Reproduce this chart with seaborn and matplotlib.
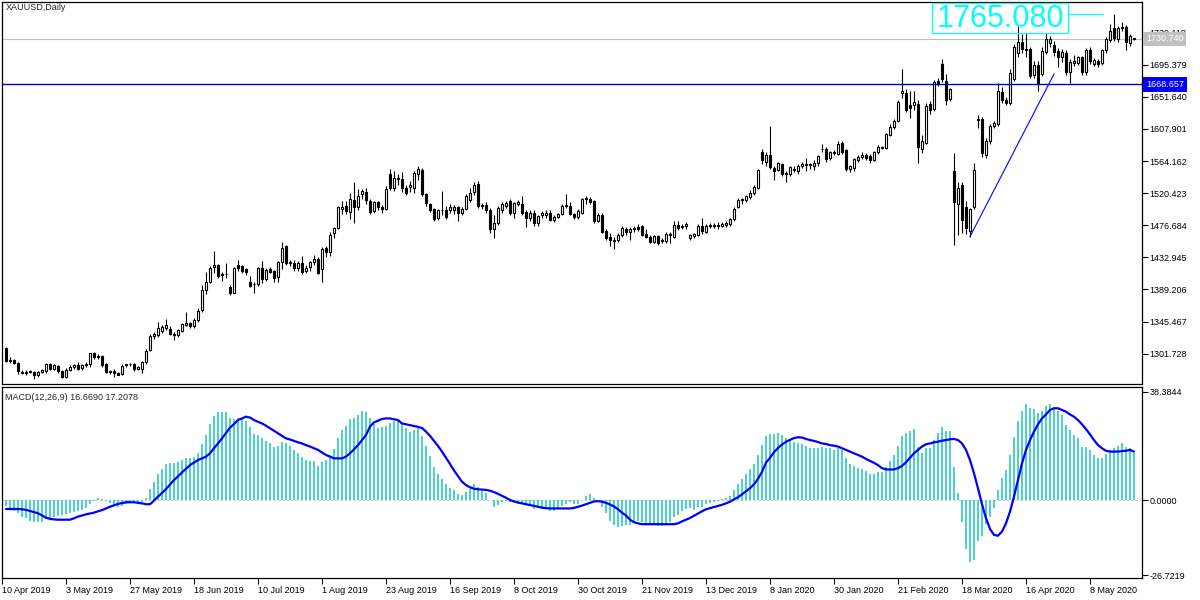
import matplotlib
matplotlib.use("Agg")
import matplotlib.pyplot as plt
import matplotlib.transforms as mtransforms
from matplotlib.patches import Rectangle
import seaborn as sns
import numpy as np
import pandas as pd

# ---- values (one entry per daily bar) ----
symbol_title = "XAUUSD,Daily"

opens = [
    1309, 1292, 1293, 1289, 1277, 1276, 1277, 1277, 1272, 1277,
    1278, 1287, 1281, 1285, 1278, 1270, 1279, 1283, 1286, 1282,
    1286, 1287, 1302, 1297, 1299, 1288, 1277, 1278, 1276, 1274,
    1286, 1287, 1287, 1281, 1281, 1290, 1307, 1326, 1327, 1333,
    1337, 1335, 1329, 1327, 1333, 1341, 1343, 1340, 1347, 1361,
    1389, 1400, 1420, 1422, 1409, 1410, 1393, 1385, 1423, 1421,
    1417, 1400, 1396, 1397, 1419, 1404, 1417, 1414, 1406, 1426,
    1448, 1425, 1425, 1418, 1425, 1415, 1420, 1426, 1431, 1417,
    1446, 1440, 1466, 1473, 1499, 1503, 1495, 1511, 1501, 1519,
    1522, 1510, 1496, 1508, 1502, 1499, 1547, 1527, 1540, 1540,
    1528, 1529, 1527, 1547, 1552, 1519, 1505, 1499, 1486, 1497,
    1498, 1497, 1498, 1501, 1493, 1499, 1511, 1522, 1533, 1503,
    1504, 1497, 1472, 1480, 1498, 1503, 1510, 1493, 1506, 1506,
    1495, 1487, 1494, 1480, 1491, 1490, 1493, 1484, 1488, 1492,
    1503, 1503, 1492, 1488, 1494, 1513, 1513, 1510, 1483, 1491,
    1469, 1461, 1456, 1456, 1463, 1472, 1467, 1472, 1475, 1476,
    1465, 1461, 1454, 1462, 1455, 1455, 1465, 1461, 1477, 1476,
    1476, 1459, 1462, 1464, 1476, 1468, 1476, 1477, 1476, 1476,
    1477, 1478, 1485, 1502, 1511, 1511, 1515, 1520, 1528, 1576,
    1563, 1573, 1555, 1552, 1560, 1548, 1546, 1552, 1551, 1558,
    1559, 1560, 1558, 1561, 1580, 1581, 1568, 1576, 1574, 1589,
    1579, 1553, 1555, 1566, 1570, 1573, 1571, 1566, 1576, 1583,
    1582, 1600, 1610, 1619, 1657, 1657, 1641, 1640, 1642, 1581,
    1589, 1642, 1635, 1673, 1696, 1673, 1649, 1551, 1505, 1532,
    1502, 1469, 1502, 1620, 1621, 1572, 1591, 1612, 1615, 1658,
    1648, 1643, 1676, 1711, 1727, 1717, 1717, 1681, 1695, 1683,
    1713, 1725, 1722, 1714, 1706, 1712, 1685, 1698, 1698, 1706,
    1685, 1715, 1697, 1701, 1698, 1715, 1729, 1745, 1730, 1745,
    1747, 1725, 1731,
]

highs = [
    1311, 1297, 1294, 1290, 1280, 1279, 1279, 1278, 1278, 1281,
    1289, 1289, 1288, 1286, 1280, 1282, 1286, 1288, 1290, 1288,
    1291, 1303, 1304, 1301, 1300, 1289, 1280, 1281, 1277, 1287,
    1288, 1289, 1289, 1285, 1292, 1308, 1329, 1331, 1345, 1341,
    1349, 1340, 1331, 1336, 1344, 1358, 1345, 1350, 1364, 1395,
    1413, 1421, 1441, 1424, 1413, 1425, 1395, 1420, 1429, 1423,
    1419, 1408, 1400, 1420, 1428, 1418, 1420, 1416, 1428, 1454,
    1450, 1430, 1430, 1428, 1435, 1422, 1428, 1436, 1434, 1447,
    1449, 1467, 1475, 1503, 1510, 1510, 1521, 1535, 1526, 1526,
    1527, 1513, 1510, 1510, 1504, 1530, 1554, 1550, 1547, 1549,
    1532, 1537, 1550, 1557, 1555, 1521, 1507, 1500, 1499, 1524,
    1503, 1506, 1504, 1503, 1501, 1519, 1527, 1536, 1537, 1507,
    1508, 1500, 1491, 1503, 1509, 1510, 1513, 1509, 1511, 1516,
    1497, 1497, 1497, 1491, 1496, 1497, 1497, 1490, 1494, 1505,
    1519, 1509, 1494, 1499, 1514, 1516, 1515, 1511, 1494, 1493,
    1471, 1466, 1461, 1466, 1476, 1475, 1475, 1476, 1479, 1477,
    1471, 1463, 1464, 1464, 1459, 1467, 1468, 1483, 1483, 1479,
    1481, 1465, 1466, 1479, 1486, 1478, 1480, 1480, 1481, 1481,
    1483, 1487, 1501, 1514, 1514, 1518, 1525, 1532, 1553, 1581,
    1577, 1612, 1557, 1563, 1562, 1550, 1558, 1558, 1560, 1563,
    1568, 1562, 1565, 1573, 1588, 1584, 1578, 1579, 1591, 1592,
    1581, 1559, 1569, 1573, 1576, 1575, 1574, 1578, 1586, 1585,
    1603, 1614, 1622, 1648, 1690, 1662, 1659, 1660, 1648, 1600,
    1643, 1646, 1675, 1678, 1703, 1683, 1664, 1575, 1535, 1535,
    1510, 1500, 1561, 1627, 1624, 1596, 1615, 1619, 1670, 1665,
    1651, 1690, 1724, 1748, 1737, 1738, 1720, 1700, 1700, 1720,
    1738, 1735, 1728, 1718, 1717, 1716, 1703, 1709, 1708, 1708,
    1718, 1719, 1705, 1703, 1717, 1733, 1751, 1764, 1748, 1753,
    1750, 1737, 1732,
]

lows = [
    1290, 1289, 1287, 1274, 1274, 1273, 1275, 1267, 1270, 1275,
    1276, 1279, 1279, 1276, 1268, 1268, 1278, 1281, 1279, 1280,
    1283, 1284, 1295, 1295, 1284, 1275, 1274, 1270, 1272, 1272,
    1283, 1285, 1278, 1280, 1276, 1288, 1305, 1322, 1325, 1330,
    1334, 1327, 1320, 1325, 1331, 1339, 1337, 1337, 1345, 1358,
    1383, 1398, 1412, 1405, 1401, 1405, 1381, 1384, 1414, 1411,
    1409, 1392, 1385, 1394, 1398, 1401, 1411, 1400, 1400, 1417,
    1422, 1421, 1415, 1414, 1410, 1412, 1415, 1422, 1410, 1400,
    1434, 1435, 1460, 1471, 1492, 1492, 1485, 1480, 1497, 1512,
    1505, 1492, 1494, 1498, 1494, 1497, 1525, 1524, 1532, 1522,
    1518, 1522, 1521, 1538, 1516, 1503, 1495, 1483, 1484, 1490,
    1485, 1493, 1492, 1483, 1490, 1497, 1509, 1518, 1500, 1499,
    1494, 1466, 1459, 1477, 1494, 1500, 1490, 1487, 1503, 1490,
    1474, 1483, 1476, 1476, 1486, 1487, 1482, 1481, 1486, 1490,
    1500, 1490, 1485, 1485, 1492, 1506, 1506, 1480, 1481, 1466,
    1456, 1448, 1445, 1454, 1461, 1464, 1456, 1468, 1469, 1462,
    1459, 1452, 1452, 1450, 1453, 1452, 1453, 1459, 1470, 1471,
    1471, 1457, 1459, 1462, 1465, 1466, 1473, 1473, 1471, 1474,
    1475, 1476, 1483, 1500, 1506, 1509, 1513, 1518, 1526, 1560,
    1557, 1553, 1539, 1550, 1544, 1535, 1544, 1549, 1547, 1555,
    1551, 1554, 1552, 1558, 1577, 1563, 1565, 1572, 1572, 1574,
    1550, 1549, 1551, 1563, 1567, 1565, 1562, 1564, 1574, 1580,
    1580, 1598, 1608, 1617, 1650, 1631, 1623, 1634, 1562, 1575,
    1587, 1628, 1632, 1667, 1672, 1641, 1646, 1450, 1463, 1466,
    1465, 1461, 1499, 1609, 1570, 1569, 1588, 1609, 1612, 1643,
    1640, 1640, 1673, 1706, 1711, 1706, 1677, 1678, 1659, 1680,
    1710, 1720, 1708, 1693, 1699, 1682, 1670, 1694, 1695, 1682,
    1682, 1697, 1694, 1693, 1695, 1712, 1726, 1728, 1727, 1741,
    1716, 1721, 1729,
]

closes = [
    1292, 1293, 1289, 1278, 1276, 1277, 1277, 1272, 1277, 1279,
    1287, 1281, 1286, 1278, 1270, 1279, 1284, 1286, 1281, 1286,
    1287, 1302, 1297, 1299, 1286, 1277, 1278, 1276, 1273, 1285,
    1287, 1287, 1281, 1283, 1290, 1306, 1326, 1328, 1337, 1338,
    1341, 1329, 1327, 1334, 1342, 1343, 1340, 1347, 1360, 1388,
    1399, 1419, 1423, 1408, 1410, 1410, 1384, 1418, 1418, 1415,
    1413, 1394, 1397, 1419, 1403, 1416, 1413, 1405, 1426, 1446,
    1425, 1426, 1418, 1425, 1413, 1419, 1426, 1431, 1412, 1445,
    1440, 1464, 1473, 1501, 1501, 1496, 1512, 1501, 1517, 1523,
    1511, 1495, 1508, 1502, 1499, 1526, 1527, 1541, 1541, 1527,
    1521, 1531, 1548, 1553, 1519, 1507, 1498, 1485, 1497, 1498,
    1488, 1501, 1502, 1493, 1499, 1517, 1521, 1532, 1503, 1504,
    1497, 1472, 1480, 1500, 1505, 1507, 1493, 1507, 1508, 1493,
    1487, 1494, 1480, 1489, 1493, 1493, 1484, 1488, 1492, 1503,
    1504, 1492, 1488, 1496, 1512, 1514, 1509, 1483, 1490, 1468,
    1459, 1456, 1455, 1463, 1473, 1467, 1472, 1473, 1471, 1464,
    1461, 1454, 1462, 1453, 1457, 1465, 1464, 1477, 1473, 1474,
    1479, 1463, 1465, 1476, 1469, 1476, 1477, 1476, 1477, 1479,
    1480, 1485, 1499, 1511, 1512, 1516, 1520, 1529, 1552, 1566,
    1573, 1556, 1551, 1561, 1547, 1546, 1556, 1554, 1558, 1560,
    1560, 1559, 1562, 1571, 1581, 1567, 1576, 1575, 1588, 1576,
    1553, 1557, 1567, 1570, 1573, 1568, 1566, 1576, 1584, 1582,
    1601, 1611, 1619, 1644, 1659, 1634, 1637, 1645, 1584, 1591,
    1639, 1634, 1672, 1671, 1676, 1647, 1662, 1509, 1528, 1484,
    1473, 1499, 1552, 1621, 1575, 1592, 1612, 1616, 1659, 1647,
    1643, 1684, 1720, 1727, 1717, 1716, 1680, 1695, 1671, 1714,
    1730, 1730, 1713, 1706, 1713, 1685, 1699, 1701, 1706, 1685,
    1715, 1701, 1702, 1697, 1715, 1730, 1741, 1732, 1745, 1747,
    1726, 1734, 1730.74,
]

macd_main = [
    -2.0, -3.0, -3.9, -4.7, -5.9, -6.5, -7.3, -7.7, -7.7, -7.7,
    -6.7, -6.5, -6.2, -5.7, -5.3, -5.1, -4.7, -4.4, -3.9, -3.6,
    -2.7, -1.5, -0.5, 0.6, 0.2, -0.2, -1.2, -2.0, -2.4, -2.0,
    -1.5, -1.2, -1.2, -0.8, -0.8, 0.6, 3.9, 6.5, 9.1, 11.0,
    12.8, 13.3, 13.3, 13.6, 14.2, 15.1, 15.1, 15.4, 16.6, 19.8,
    23.1, 26.9, 30.0, 31.1, 31.4, 31.4, 29.1, 28.7, 29.1, 29.3,
    28.1, 25.8, 23.3, 23.1, 22.2, 21.0, 20.2, 19.0, 19.2, 20.5,
    20.2, 19.3, 17.8, 16.8, 15.4, 14.2, 13.8, 13.8, 12.1, 13.6,
    14.2, 16.0, 18.1, 21.9, 24.8, 26.4, 28.7, 29.1, 30.2, 31.6,
    31.2, 29.1, 26.9, 25.5, 26.1, 26.3, 27.5, 27.9, 27.9, 26.9,
    25.5, 24.3, 24.9, 25.5, 22.9, 19.2, 15.8, 11.9, 9.3, 7.5,
    5.7, 4.1, 3.4, 2.3, 1.8, 2.7, 3.9, 5.6, 4.7, 3.6,
    2.6, 0.1, -2.4, -1.8, -0.8, -0.4, -0.6, -0.9, -1.3, -1.5,
    -1.8, -1.8, -3.2, -3.0, -3.2, -3.3, -3.9, -3.8, -3.0, -2.1,
    -1.4, -0.8, -1.3, -1.4, -0.1, 1.4, 2.1, 0.6, -0.6, -2.4,
    -4.7, -7.4, -8.8, -9.5, -9.1, -8.8, -8.8, -7.7, -7.3, -7.9,
    -8.6, -8.8, -8.8, -9.1, -9.1, -8.0, -7.7, -6.2, -5.3, -3.9,
    -3.2, -3.0, -3.6, -2.6, -2.4, -1.5, -1.2, -0.8, -0.4, 0.4,
    0.6, 1.4, 3.6, 5.7, 7.3, 9.1, 11.0, 12.8, 16.0, 19.5,
    22.9, 23.3, 23.3, 23.9, 23.1, 21.9, 21.5, 20.7, 20.2, 19.9,
    19.2, 18.6, 18.4, 18.4, 19.0, 18.4, 18.4, 17.8, 18.4, 17.8,
    15.1, 12.8, 12.1, 11.5, 11.0, 10.3, 9.3, 9.3, 9.8, 9.8,
    11.8, 13.8, 16.0, 19.2, 22.9, 23.7, 24.5, 25.2, 19.0, 16.6,
    18.4, 18.6, 21.3, 23.9, 25.8, 24.5, 24.5, 11.8, 2.4, -7.9,
    -17.4, -21.9, -21.3, -14.6, -12.8, -8.6, -5.9, -2.7, 3.6, 7.7,
    10.7, 16.0, 22.5, 28.1, 31.6, 34.0, 32.6, 32.2, 31.0, 31.6,
    33.4, 34.0, 32.9, 31.6, 30.2, 26.6, 24.9, 23.1, 21.9, 19.0,
    19.0, 17.8, 16.0, 15.1, 15.1, 16.3, 17.8, 18.4, 19.2, 20.2,
    19.0, 18.6, 16.6690,
]

macd_signal = [
    -3.2, -3.2, -3.2, -3.2, -3.3, -3.5, -3.9, -4.3, -4.7, -5.5,
    -6.3, -6.7, -6.9, -7.0, -7.0, -7.0, -7.0, -6.5, -5.9, -5.5,
    -5.1, -4.8, -4.5, -4.0, -3.6, -3.0, -2.4, -1.9, -1.4, -1.1,
    -0.8, -0.8, -0.8, -1.0, -1.2, -1.5, -1.5, -0.2, 1.2, 2.5,
    3.9, 5.5, 7.1, 8.4, 9.8, 11.1, 12.4, 13.3, 14.2, 14.8,
    15.4, 16.6, 18.4, 20.1, 21.9, 23.8, 25.7, 27.0, 28.4, 29.0,
    29.6, 29.3, 28.4, 27.8, 27.2, 26.4, 25.5, 24.6, 23.7, 22.8,
    21.9, 21.5, 21.0, 20.5, 20.1, 19.5, 19.0, 18.4, 17.8, 16.9,
    16.0, 15.4, 14.8, 14.8, 14.8, 15.4, 16.6, 18.0, 19.5, 21.3,
    23.1, 26.1, 27.6, 28.2, 28.8, 29.0, 29.0, 28.7, 28.4, 27.2,
    26.9, 26.6, 26.3, 26.0, 25.6, 24.3, 22.8, 21.0, 19.2, 17.2,
    15.0, 12.8, 10.5, 8.5, 6.5, 5.3, 4.5, 4.0, 3.8, 3.7,
    3.6, 3.3, 2.8, 2.2, 1.5, 0.8, 0.0, -0.5, -0.9, -1.2,
    -1.5, -1.8, -2.1, -2.4, -2.7, -2.9, -3.0, -3.0, -3.0, -3.0,
    -3.0, -3.0, -2.8, -2.4, -2.0, -1.5, -1.0, -0.5, -0.4, -0.6,
    -1.0, -1.6, -2.3, -3.3, -4.5, -5.5, -7.0, -7.9, -8.3, -8.6,
    -8.6, -8.6, -8.6, -8.6, -8.6, -8.6, -8.6, -8.6, -8.3, -7.6,
    -7.0, -6.4, -5.6, -4.8, -4.0, -3.3, -2.9, -2.5, -2.1, -1.7,
    -1.2, -0.6, 0.2, 1.0, 2.0, 3.1, 4.2, 5.6, 7.5, 10.0,
    13.3, 15.0, 17.0, 18.5, 19.7, 20.7, 21.4, 22.0, 22.3, 22.2,
    21.7, 21.3, 21.0, 20.6, 20.1, 19.9, 19.5, 19.3, 19.0, 18.4,
    17.8, 17.2, 16.6, 16.0, 15.4, 14.6, 13.9, 13.2, 12.4, 11.3,
    10.9, 10.8, 10.9, 11.3, 12.1, 13.4, 15.0, 16.6, 17.8, 19.0,
    19.8, 20.1, 20.5, 20.7, 21.1, 21.3, 21.6, 21.7, 21.3, 20.1,
    17.8, 14.2, 9.5, 4.1, -1.5, -6.5, -10.3, -12.4, -12.7, -11.2,
    -8.3, -4.1, 1.2, 7.1, 13.0, 17.8, 21.3, 24.3, 26.9, 29.0,
    30.4, 32.0, 32.6, 32.6, 32.0, 31.4, 30.4, 29.6, 28.4, 26.9,
    25.2, 23.3, 21.3, 19.5, 18.4, 17.5, 17.2, 17.2, 17.2, 17.4,
    17.5, 17.8, 17.2078,
]

date_labels = [
    "10 Apr 2019", "3 May 2019", "27 May 2019", "18 Jun 2019", "10 Jul 2019",
    "1 Aug 2019", "23 Aug 2019", "16 Sep 2019", "8 Oct 2019", "30 Oct 2019",
    "21 Nov 2019", "13 Dec 2019", "8 Jan 2020", "30 Jan 2020", "21 Feb 2020",
    "18 Mar 2020", "16 Apr 2020", "8 May 2020",
]

price_ticks = [1301.728, 1345.467, 1389.206, 1432.945, 1476.684, 1520.423,
               1564.162, 1607.901, 1651.640, 1695.379, 1739.118]
macd_ticks = [38.3844, 0.0, -26.7219]

last_price = 1730.740
level_price = 1668.657
label_price = 1765.080
trend_bars = [241, 262]
trend_prices = [1461.2, 1682.8]

# ---- style ----
sns.set_style("white")
plt.rcParams['font.family'] = ['Liberation Sans', 'DejaVu Sans']
FS = 6.5

df = pd.DataFrame({'open': opens, 'high': highs, 'low': lows, 'close': closes,
                   'macd': macd_main, 'signal': macd_signal})
df['bar'] = np.arange(len(df))
df['up'] = df['close'] >= df['open']
df['body_lo'] = df[['open', 'close']].min(axis=1)
df['body_h'] = (df['close'] - df['open']).abs().clip(lower=0.6)

W, H = 1200, 600
fig = plt.figure(figsize=(12, 6), dpi=100, facecolor='white')


def px_axes(x0, y0, x1, y1):
    return fig.add_axes([x0 / W, 1 - y1 / H, (x1 - x0) / W, (y1 - y0) / H])


ax = px_axes(2, 2, 1142, 384)
axm = px_axes(2, 387, 1142, 578)

# ---- price panel: candles ----
ax.axhline(last_price, color='#c0c0c0', lw=0.8, zorder=1)
ax.vlines(df['bar'], df['low'], df['high'], color='black', lw=0.8, zorder=2)
ax.bar(df['bar'], df['body_h'], bottom=df['body_lo'], width=0.5,
       color=np.where(df['up'], 'white', 'black'), edgecolor='black',
       linewidth=0.8, zorder=3)

ax.axhline(level_price, color='#0000cc', lw=1.0, zorder=4)
ax.plot(trend_bars, trend_prices, color='#0000ff', lw=0.8, zorder=4)

# cyan price label object
ax.add_patch(Rectangle((231.5, 1738.7), 34, 40.9, fill=False,
                       ec='#00ffff', lw=0.9, zorder=5))
ax.text(248.5, 1746.9, f"{label_price:.3f}", color='#00ffff', fontsize=22,
        ha='center', va='baseline', zorder=6)
ax.plot([265.5, 274.25], [label_price, label_price], color='#00ffff', lw=0.9, zorder=5)

ax.set_xlim(-1, 284)
ax.set_ylim(1260.4, 1780.9)
ax.yaxis.tick_right()
ax.set_yticks(price_ticks)
ax.set_yticklabels([f"{v:.3f}" for v in price_ticks])
ax.tick_params(axis='y', direction='out', length=4, width=0.8,
               labelsize=FS, pad=1.5, colors='black')
ax.tick_params(axis='x', bottom=False, labelbottom=False)
for s in ax.spines.values():
    s.set_color('black')
    s.set_linewidth(0.9)

trans = mtransforms.blended_transform_factory(ax.transAxes, ax.transData)
ax.text(1.0035, last_price, f"{last_price:.3f}", transform=trans, color='white',
        fontsize=FS, va='center', ha='left', zorder=6, clip_on=False,
        bbox=dict(boxstyle='square,pad=0.3', fc='#c0c0c0', ec='none'))
ax.text(1.0035, level_price, f"{level_price:.3f}", transform=trans, color='white',
        fontsize=FS, va='center', ha='left', zorder=6, clip_on=False,
        bbox=dict(boxstyle='square,pad=0.3', fc='#0000ff', ec='none'))

# ---- MACD panel ----
axm.axhline(0, color='#c8c8c8', lw=0.8, ls=(0, (2, 2)), zorder=1)
sns.barplot(data=df, x='bar', y='macd', native_scale=True, color='#4fd1cb',
            saturation=1, width=0.5, errorbar=None, linewidth=0, ax=axm, zorder=2)
sns.lineplot(data=df, x='bar', y='signal', color='#0000ff', linewidth=1.6,
             ax=axm, zorder=4)

axm.set_xlim(-1, 284)
axm.set_ylim(-27.72, 40.16)
axm.set_xlabel('')
axm.set_ylabel('')
axm.yaxis.tick_right()
axm.set_yticks(macd_ticks)
axm.set_yticklabels([f"{v:.4f}" for v in macd_ticks])
axm.tick_params(axis='y', direction='out', length=4, width=0.8,
                labelsize=FS, pad=1.5, colors='black')

date_pos = np.arange(-1, len(df), 16)[:len(date_labels)]
axm.set_xticks(date_pos)
axm.set_xticklabels(date_labels, ha='left')
axm.tick_params(axis='x', direction='out', length=4, width=0.8,
                labelsize=FS, pad=2, colors='black', bottom=True)
for s in axm.spines.values():
    s.set_color('black')
    s.set_linewidth(0.9)

# ---- captions ----
fig.text(6 / W, 1 - 8 / H, symbol_title, fontsize=FS, ha='left', va='center')
fig.text(5 / W, 1 - 397 / H,
         f"MACD(12,26,9) {macd_main[-1]:.4f} {macd_signal[-1]:.4f}",
         fontsize=FS, ha='left', va='center')

fig.savefig("out.png", dpi=100, facecolor='white')
